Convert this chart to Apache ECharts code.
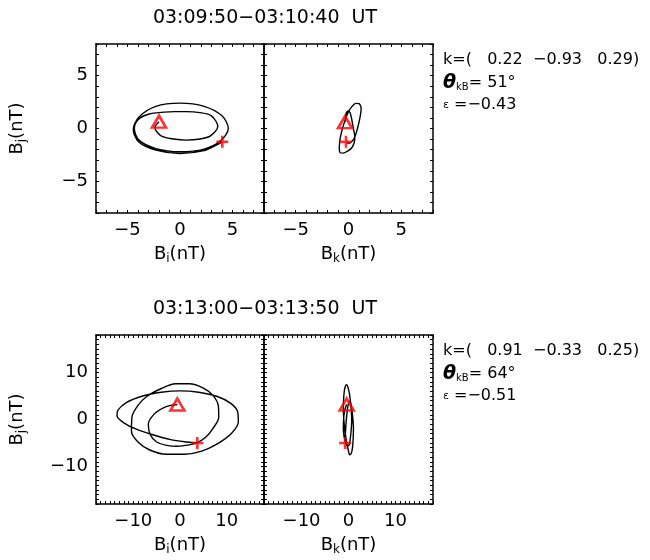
<!DOCTYPE html>
<html>
<head>
<meta charset="utf-8">
<script src="https://cdn.jsdelivr.net/npm/echarts@6/dist/echarts.min.js"></script>
<style>
html, body { margin: 0; padding: 0; background: #fff; }
#main { width: 650px; height: 560px; }
</style>
</head>
<body>
<div id="main"></div>
<script>
// interval 1: 03:09:50-03:10:40
var p1Bi = [-2.0, -2.4, -1.8, -0.6, 0.6, 1.9, 2.9, 3.6, 3.0, 1.9, 0.6, -0.5, -1.5, -3.0, -3.97, -4.35, -3.9, -2.3, 0.0, 2.3, 3.9, 4.6, 4.0, 2.3, 0.0, -2.3, -3.9, -4.45, -3.95, -2.3, 0.0, 2.3, 3.6, 4.03];
var p1Bj = [0.65, 0.1, -0.7, -1.0, -1.1, -1.0, -0.7, 0.2, 1.2, 1.5, 1.6, 1.6, 1.55, 1.35, 0.85, 0.0, -1.1, -1.9, -2.2, -1.95, -1.15, 0.0, 1.2, 2.1, 2.4, 2.1, 1.1, -0.1, -1.25, -2.05, -2.37, -2.1, -1.5, -1.26];
var p2Bk = [-0.33, -0.28, -0.2, -0.02, 0.15, 0.3, 0.46, 0.6, 0.55, 0.3, -0.1, -0.5, -0.78, -0.87, -0.8, -0.6, -0.35, -0.05, 0.3, 0.7, 1.0, 1.2, 1.1, 0.85, 0.6, 0.3, 0.0, -0.24];
var p2Bj = [0.6, 1.1, 1.5, 1.67, 1.5, 0.9, 0.0, -0.8, -1.3, -1.85, -2.15, -2.33, -2.3, -1.8, -1.0, -0.1, 0.7, 1.5, 2.05, 2.38, 2.35, 1.9, 1.1, 0.0, -0.8, -1.25, -1.4, -1.26];

// interval 2: 03:13:00-03:13:50
var p3Bi = [-0.57, -2.0, -3.57, -5.5, -6.79, -6.4, -5.0, -2.86, -0.5, 2.0, 3.57, 5.5, 7.0, 8.3, 8.2, 7.0, 5.0, 2.0, -1.0, -4.0, -7.0, -9.0, -10.3, -10.4, -9.0, -6.5, -3.0, 1.0, 4.5, 8.0, 11.0, 12.5, 12.3, 10.8, 8.0, 4.0, 0.0, -4.0, -8.0, -11.5, -13.3, -13.5, -12.2, -9.5, -6.0, -2.0, 1.5, 3.71];
var p3Bj = [3.21, 3.0, 2.5, 1.2, -1.0, -3.2, -4.8, -5.5, -5.7, -5.4, -5.0, -3.8, -2.0, 0.5, 3.0, 5.2, 6.7, 7.6, 7.6, 6.6, 5.0, 3.0, 0.5, -2.5, -4.8, -6.5, -7.4, -7.4, -6.8, -5.2, -3.0, -0.5, 1.8, 3.5, 4.9, 5.8, 6.1, 5.8, 5.0, 3.6, 2.0, 0.8, -0.6, -2.0, -3.2, -4.3, -4.8, -5.0];
var p4Bk = [-0.39, -0.8, -1.0, -1.1, -0.95, -0.6, -0.25, 0.15, 0.35, 0.55, 0.68, 0.6, 0.4, 0.15, -0.15, -0.45, -0.8, -1.0, -1.1, -1.0, -0.75, -0.4, -0.05, 0.25, 0.6, 0.85, 1.0, 1.05, 0.9, 0.65, 0.35, 0.05, -0.25, -0.5, -0.65, -0.72];
var p4Bj = [3.2, 2.0, 0.5, -1.8, -3.6, -5.0, -5.7, -5.4, -4.3, -2.5, -0.5, 1.8, 4.0, 5.8, 7.0, 7.4, 6.6, 5.0, 2.5, 0.0, -2.5, -4.8, -6.5, -7.5, -7.2, -6.0, -4.0, -1.8, 0.5, 2.6, 3.9, 3.6, 2.0, -0.5, -2.8, -5.0];

var titles = ['03:09:50\u221203:10:40  UT', '03:13:00\u221203:13:50  UT'];
var kVec = [[0.22, -0.93, 0.29], [0.91, -0.33, 0.25]];
var thetaKB = [51, 64];
var epsilon = [-0.43, -0.51];
var axisLim = [8, 18];
var labelStep = [5, 10];

var FONT = 'DejaVu Sans';

function minus(s) { return String(s).replace('-', '\u2212'); }
function f72(v) { var s = v.toFixed(2); while (s.length < 7) s = ' ' + s; return minus(s); }
function tickFmt(step) {
    return function (v) {
        if (Math.abs(v % step) > 1e-9) return '';
        return minus(v);
    };
}
function zip(xs, ys) { return xs.map(function (x, i) { return [x, ys[i]]; }); }

var subRich = {
    n: { fontSize: 18, fontFamily: FONT, color: '#000' },
    s: { fontSize: 12, fontFamily: FONT, color: '#000', padding: [10, 0, 0, 0] }
};

var panels = [
    { left: 96, top: 44, width: 168, height: 169, row: 0, comp: 'i', x: p1Bi, y: p1Bj, yLabels: true },
    { left: 264, top: 44, width: 169, height: 169, row: 0, comp: 'k', x: p2Bk, y: p2Bj, yLabels: false },
    { left: 96, top: 335, width: 168, height: 169, row: 1, comp: 'i', x: p3Bi, y: p3Bj, yLabels: true },
    { left: 264, top: 335, width: 169, height: 169, row: 1, comp: 'k', x: p4Bk, y: p4Bj, yLabels: false }
];

var grids = [], xAxes = [], yAxes = [], series = [];
var lineSt = { show: true, onZero: false, lineStyle: { color: '#000', width: 1.5 } };
var tickSt = { show: true, inside: true, length: 3, lineStyle: { color: '#000', width: 1 } };

panels.forEach(function (p, i) {
    var lim = axisLim[p.row], step = labelStep[p.row];
    grids.push({ left: p.left, top: p.top, width: p.width, height: p.height });
    var base = { gridIndex: i, type: 'value', min: -lim, max: lim, interval: 1,
        axisLine: lineSt, axisTick: tickSt, splitLine: { show: false } };
    xAxes.push(Object.assign({}, base, {
        position: 'bottom',
        axisLabel: { formatter: tickFmt(step), fontSize: 18, fontFamily: FONT, color: '#000', margin: 8 },
        name: '{n|B}{s|' + p.comp + '}{n|(nT)}', nameLocation: 'middle', nameGap: 30,
        nameTextStyle: { rich: subRich }
    }));
    xAxes.push(Object.assign({}, base, { position: 'top', axisLabel: { show: false } }));
    yAxes.push(Object.assign({}, base, {
        position: 'left',
        axisLabel: { show: p.yLabels, formatter: tickFmt(step), fontSize: 18, fontFamily: FONT, color: '#000', margin: 8 },
        name: p.yLabels ? '{n|B}{s|j}{n|(nT)}' : '', nameLocation: 'middle', nameGap: 68,
        nameTextStyle: { rich: subRich }
    }));
    yAxes.push(Object.assign({}, base, { position: 'right', axisLabel: { show: false } }));

    var pts = zip(p.x, p.y);
    series.push({ type: 'line', xAxisIndex: 2 * i, yAxisIndex: 2 * i, data: pts,
        showSymbol: false, smooth: 0.3, lineStyle: { color: '#000', width: 1.4 }, silent: true, z: 2 });
    series.push({ type: 'scatter', xAxisIndex: 2 * i, yAxisIndex: 2 * i, data: [pts[0]],
        symbol: 'triangle', symbolSize: [14, 12],
        itemStyle: { color: 'rgba(0,0,0,0)', borderColor: '#ff0000', borderWidth: 2.6 }, z: 5 });
    series.push({ type: 'scatter', xAxisIndex: 2 * i, yAxisIndex: 2 * i, data: [pts[pts.length - 1]],
        symbol: 'path://M0,5L10,5M5,0L5,10', symbolSize: 12,
        itemStyle: { color: 'rgba(0,0,0,0)', borderColor: '#ff0000', borderWidth: 2.6 }, z: 5 });
});

// titles and the k / theta / epsilon notes
var graphics = [];
var rowTop = [0, 291];
[0, 1].forEach(function (r) {
    var y0 = rowTop[r];
    graphics.push({ type: 'text', x: 265, y: y0 + 18,
        style: { text: titles[r], fontSize: 19, fontFamily: FONT, fill: '#000',
            align: 'center', verticalAlign: 'middle', textAlign: 'center', textVerticalAlign: 'middle' } });
    graphics.push({ type: 'text', x: 443, y: y0 + 60,
        style: { text: 'k=(' + kVec[r].map(f72).join('') + ')', fontSize: 16, fontFamily: FONT, fill: '#000',
            verticalAlign: 'middle', textVerticalAlign: 'middle' } });
    graphics.push({ type: 'text', x: 443, y: y0 + 83,
        style: { text: '{th|\u03b8}{sb|kB}{n|= ' + thetaKB[r] + '\u00b0}', verticalAlign: 'middle', textVerticalAlign: 'middle',
            rich: {
                th: { fontSize: 19, fontWeight: 'bold', fontStyle: 'italic', fontFamily: FONT, fill: '#000' },
                sb: { fontSize: 10, fontFamily: FONT, fill: '#000', padding: [8, 0, 0, 0] },
                n: { fontSize: 16, fontFamily: FONT, fill: '#000' }
            } } });
    graphics.push({ type: 'text', x: 443, y: y0 + 105,
        style: { text: '{e|\u03b5}{n| =' + minus(epsilon[r].toFixed(2)) + '}', verticalAlign: 'middle', textVerticalAlign: 'middle',
            rich: {
                e: { fontSize: 11, fontFamily: FONT, fill: '#000' },
                n: { fontSize: 16, fontFamily: FONT, fill: '#000' }
            } } });
});

var chart = echarts.init(document.getElementById('main'));
chart.setOption({
    animation: false,
    backgroundColor: '#fff',
    grid: grids,
    xAxis: xAxes,
    yAxis: yAxes,
    series: series,
    graphic: graphics
});
</script>
</body>
</html>
